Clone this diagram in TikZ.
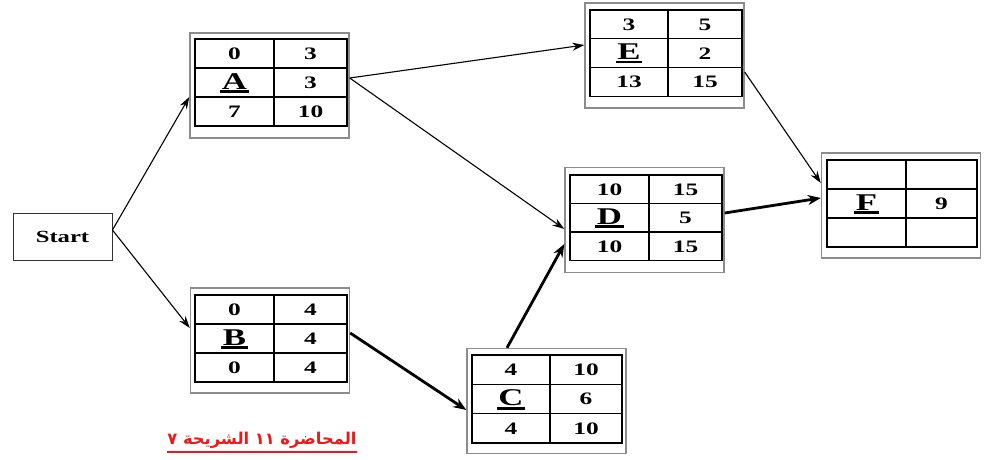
\documentclass[tikz,border=0pt]{standalone}
\usepackage{fontspec}
\usepackage{graphicx}
\setmainfont{Liberation Serif}
\newfontfamily\arabicfont[Script=Arabic]{DejaVu Sans}
\TeXXeTstate=1
\usetikzlibrary{arrows.meta}
\definecolor{lblred}{RGB}{235,25,25}
\definecolor{framegray}{RGB}{140,140,140}
\newcommand\sx[1]{\scalebox{1.45}[1]{#1}}
\newcommand\ulet[1]{\setbox0\hbox{#1}\rlap{\kern-1pt\raisebox{-4pt}{\rule{\dimexpr\wd0+2pt\relax}{2.6pt}}}\box0}
\tikzset{
  frame/.style={draw=framegray, line width=1.4pt, minimum width=159pt, minimum height=105pt, inner sep=0pt},
  gridline/.style={draw=black, line width=1.2pt},
  num/.style={font=\bfseries\fontsize{17.5}{17.5}\selectfont, anchor=base, inner sep=0pt},
  letter/.style={font=\bfseries\fontsize{24}{24}\selectfont, anchor=base, inner sep=0pt},
  startbox/.style={draw=black!80, line width=0.9pt, minimum width=99pt, minimum height=47pt, inner sep=0pt, font=\bfseries\fontsize{17}{17}\selectfont},
  thin/.style={draw=black, line width=1.1pt, -{Stealth[length=12pt,width=8pt]}},
  crit/.style={draw=black, line width=2.8pt, -{Stealth[length=13pt,width=10pt]}},
  lbl/.style={text=lblred, inner sep=0pt}
}
\newcommand\grid[5]{%
  \draw[gridline] (#1,#4) rectangle (#3,{#4+3*#5});
  \draw[gridline] (#1,{#4+#5}) -- (#3,{#4+#5}) (#1,{#4+2*#5}) -- (#3,{#4+2*#5}) (#2,#4) -- (#2,{#4+3*#5});
  \draw[line width=1.9pt] (#3,#4) -- (#3,{#4+3*#5});
  \def\gl{#1}\def\gc{#2}\def\gr{#3}\def\gt{#4}\def\gh{#5}}
\newcommand\cells[7]{%
  \node[num] (#1-tl) at ({(\gl+\gc)/2},{\gt+0.5*\gh+6}) {\sx{#2}};
  \node[num] (#1-tr) at ({(\gc+\gr)/2},{\gt+0.5*\gh+6}) {\sx{#3}};
  \node[letter] (#1-ml) at ({(\gl+\gc)/2},{\gt+2*\gh-8}) {\sx{\ulet{#4}}};
  \node[num] (#1-mr) at ({(\gc+\gr)/2},{\gt+1.5*\gh+6}) {\sx{#5}};
  \node[num] (#1-bl) at ({(\gl+\gc)/2},{\gt+2.5*\gh+6}) {\sx{#6}};
  \node[num] (#1-br) at ({(\gc+\gr)/2},{\gt+2.5*\gh+6}) {\sx{#7}};}
\begin{document}
\begin{tikzpicture}[x=1pt,y=-1pt]
\useasboundingbox (0,0) rectangle (989,459);
\fill[white] (0,0) rectangle (989,459);
% start
\node[startbox] (S) at (62.5,236.5) {\sx{Start}};
% frames
\node[frame] (A) at (269.5,85.5) {};
\node[frame] (B) at (270,340.5) {};
\node[frame] (C) at (546.5,401) {};
\node[frame] (D) at (644.5,220) {};
\node[frame] (E) at (664.5,55.5) {};
\node[frame] (F) at (901,205.5) {};
% tables
\grid{195}{274}{347}{39}{29}
\cells{A}{0}{3}{A}{3}{7}{10}
\grid{195}{274}{347}{295}{29}
\cells{B}{0}{4}{B}{4}{0}{4}
\grid{472}{550}{622}{355}{29.3}
\cells{C}{4}{10}{C}{6}{4}{10}
\grid{570}{649}{722}{175}{28.5}
\cells{D}{10}{15}{D}{5}{10}{15}
\grid{590}{668}{742}{10}{28.7}
\cells{E}{3}{5}{E}{2}{13}{15}
\grid{827}{906}{977}{160}{29}
\cells{F}{}{}{F}{9}{}{}
% connectors
\draw[thin] ([yshift=6.5pt]S.east) -- ([yshift=-11.5pt]A.west);
\draw[thin] ([yshift=6.5pt]S.east) -- ([yshift=12.5pt]B.west);
\draw[thin] ([yshift=7.5pt]A.east) -- ([yshift=10.5pt]E.west);
\draw[thin] ([yshift=7.5pt]A.east) -- ([yshift=-9pt]D.west);
\draw[thin] ([yshift=-16.5pt]E.east) -- ([yshift=22.5pt]F.west);
\draw[crit] ([yshift=7.5pt]B.east) -- ([yshift=-9pt]C.west);
\draw[crit] ([xshift=-39.5pt]C.north) -- ([yshift=-24pt]D.west);
\draw[crit] ([yshift=7pt]D.east) -- ([yshift=7.5pt]F.west);
% label
\node[lbl] (L) at (262,440) {\resizebox{189pt}{!}{\arabicfont\bfseries\beginR المحاضرة ١١ الشريحة ٧\endR}};
\draw[draw=lblred, line width=2pt] ([yshift=-3.5pt]L.south west) -- ([yshift=-3.5pt]L.south east);
\end{tikzpicture}
\end{document}
